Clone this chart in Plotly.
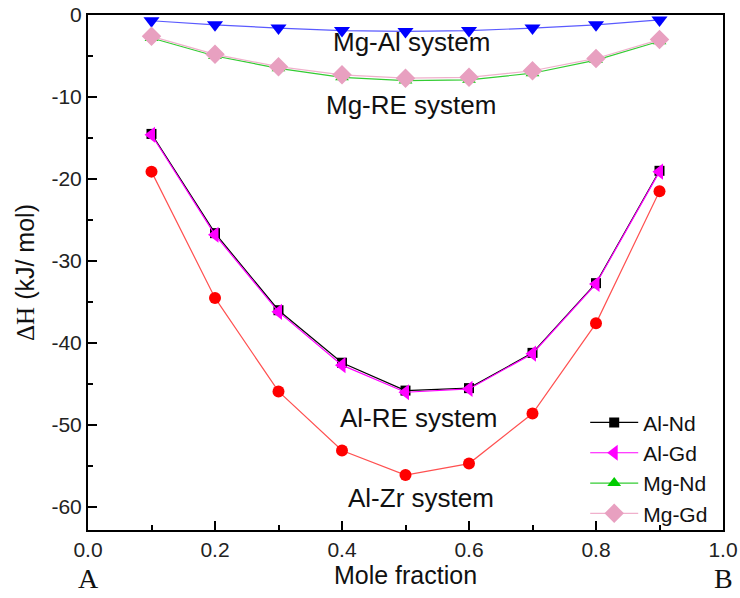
import plotly.graph_objects as go

# Mole fraction of component B
x_frac = [0.1, 0.2, 0.3, 0.4, 0.5, 0.6, 0.7, 0.8, 0.9]

# Mixing enthalpy, kJ/mol
mg_al = [-0.7, -1.2, -1.6, -1.9, -2.0, -1.9, -1.6, -1.2, -0.6]
mg_nd = [-2.8, -5.0, -6.5, -7.6, -8.0, -7.9, -7.1, -5.5, -3.2]
mg_gd = [-2.6, -4.8, -6.3, -7.3, -7.7, -7.6, -6.8, -5.3, -3.0]
al_nd = [-14.5, -26.6, -36.0, -42.4, -45.8, -45.5, -41.2, -32.7, -19.0]
al_gd = [-14.6, -26.8, -36.2, -42.7, -46.0, -45.6, -41.3, -32.8, -19.1]
al_zr = [-19.1, -34.5, -45.9, -53.1, -56.1, -54.7, -48.6, -37.6, -21.5]

# Axis ticks
y_ticks = [0, -10, -20, -30, -40, -50, -60]
y_tick_text = ["0", "-10", "-20", "-30", "-40", "-50", "-60"]

SANS = "Liberation Sans, Arial"
SERIF = "Liberation Serif, Times New Roman"

fig = go.Figure()

def add_series(y, name, color, line_color, symbol, size, show):
    fig.add_trace(go.Scatter(
        x=x_frac, y=y, name=name, mode="lines+markers",
        line=dict(color=line_color, width=1.2),
        marker=dict(color=color, symbol=symbol, size=size, line=dict(width=0)),
        showlegend=show, cliponaxis=False,
    ))

add_series(al_zr, "Al-Zr", "#ff0000", "#ff5050", "circle", 12, False)
add_series(mg_al, "Mg-Al", "#0000ff", "#5a5aff", "triangle-down", 14, False)
add_series(al_nd, "Al-Nd", "#000000", "#000000", "square", 10, True)
add_series(al_gd, "Al-Gd", "#ff00ff", "#ff00ff", "triangle-left", 14, True)
add_series(mg_nd, "Mg-Nd", "#00cc00", "#33cc33", "triangle-up", 12, True)
add_series(mg_gd, "Mg-Gd", "#e8a0c0", "#f0b0cc", "diamond", 15, True)

labels = [
    (0.509, -3.3, "Mg-Al system"),
    (0.509, -11.0, "Mg-RE system"),
    (0.52, -49.1, "Al-RE system"),
    (0.524, -58.9, "Al-Zr system"),
]
for lx, ly, txt in labels:
    fig.add_annotation(x=lx, y=ly, text=txt, showarrow=False,
                       font=dict(family=SANS, size=26, color="#111"))

for lx, txt in [(0.0, "A"), (1.0, "B")]:
    fig.add_annotation(x=lx, y=0, xref="x", yref="paper", yanchor="middle",
                       yshift=-48, text=txt, showarrow=False,
                       font=dict(family=SERIF, size=28, color="#111"))

axis_common = dict(
    showline=True, linecolor="black", linewidth=2, mirror=True,
    showgrid=False, zeroline=False, ticks="inside", tickcolor="black",
    tickwidth=2, ticklen=9, automargin=False,
    tickfont=dict(family=SANS, size=21, color="#222"),
)

fig.update_layout(
    width=740, height=598,
    margin=dict(l=88, r=17, t=15, b=68),
    paper_bgcolor="white", plot_bgcolor="white",
    xaxis=dict(range=[0, 1.0], dtick=0.2, tickformat=".1f",
               minor=dict(dtick=0.1, ticks="inside", ticklen=5, tickwidth=2, tickcolor="black"),
               title=dict(text="Mole fraction", standoff=6,
                          font=dict(family=SANS, size=25, color="#111")),
               **axis_common),
    yaxis=dict(range=[-62.8, 0], tickvals=y_ticks, ticktext=y_tick_text,
               minor=dict(dtick=5, ticks="inside", ticklen=5, tickwidth=2, tickcolor="black"),
               title=dict(text="<span style='font-family:Liberation Serif'>ΔH</span> (kJ/ mol)",
                          standoff=10,
                          font=dict(family=SANS, size=25, color="#111")),
               **axis_common),
    legend=dict(x=0.783, y=0.248, xanchor="left", yanchor="top",
                bgcolor="rgba(0,0,0,0)", borderwidth=0,
                font=dict(family=SANS, size=21, color="#111"),
                tracegroupgap=0, itemwidth=48),
)

fig.write_html("out.html")
